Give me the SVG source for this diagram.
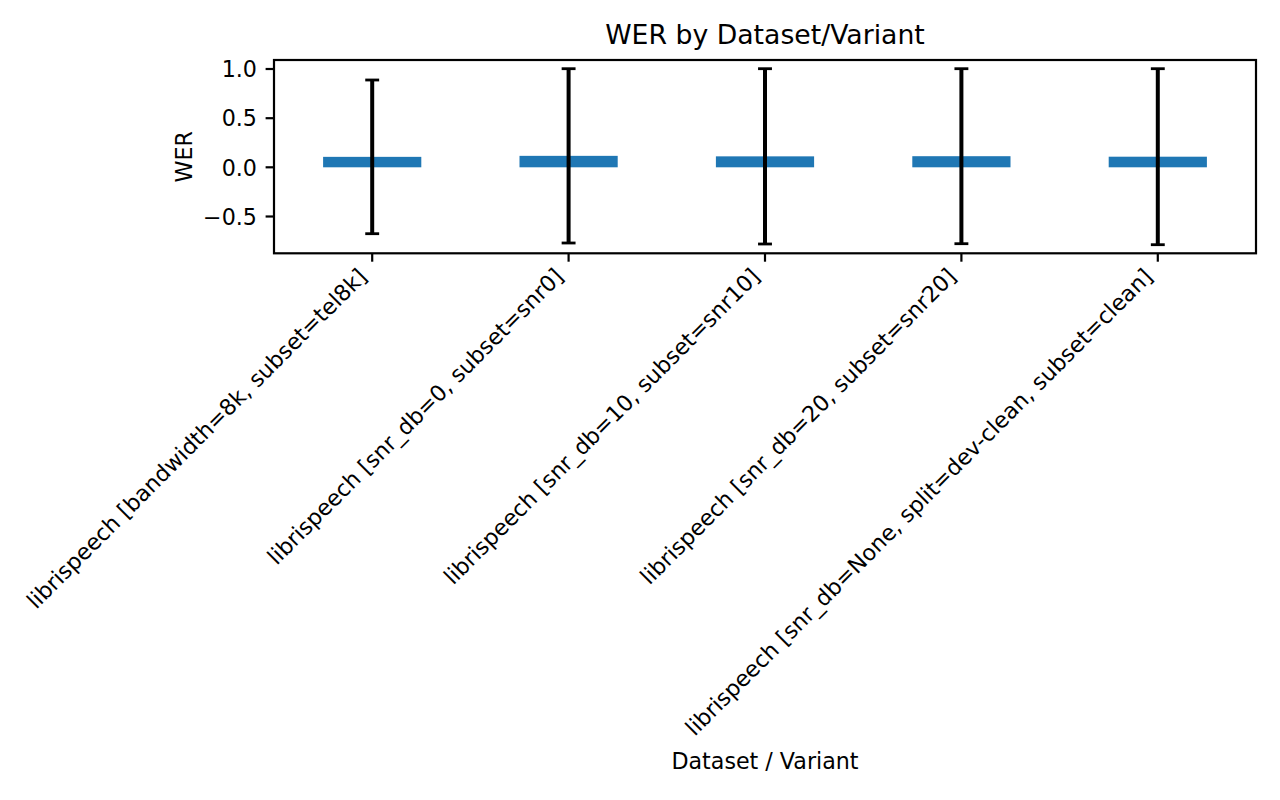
<svg xmlns="http://www.w3.org/2000/svg" width="1280" height="800" viewBox="0 0 1280 800">
<style>
text{font-family:"DejaVu Sans","Liberation Sans",sans-serif;fill:#000}
.tl{font-size:22.2px}
.ttl{font-size:26.7px}
.tick{stroke:#000;stroke-width:2.2}
.bar{fill:#1f77b4}
.err{stroke:#000;stroke-width:4;fill:none}
.cap{stroke:#000;stroke-width:2.8;fill:none}
</style>
<rect width="1280" height="800" fill="#fff"/>
<g id="title"><text class="ttl" x="765" y="43.5" text-anchor="middle">WER by Dataset/Variant</text></g>
<g id="bars">
<rect class="bar" x="323.1" y="156.85" width="98.2" height="10.45"/>
<rect class="bar" x="519.5" y="155.85" width="98.2" height="11.45"/>
<rect class="bar" x="715.9" y="156.35" width="98.2" height="10.95"/>
<rect class="bar" x="912.3" y="156.2" width="98.2" height="11.1"/>
<rect class="bar" x="1108.7" y="156.7" width="98.2" height="10.6"/>
</g>
<g id="errorbars">
<line class="err" x1="372.2" y1="80" x2="372.2" y2="233.7"/>
<line class="cap" x1="365.25" y1="80" x2="379.15" y2="80"/>
<line class="cap" x1="365.25" y1="233.7" x2="379.15" y2="233.7"/>
<line class="err" x1="568.6" y1="68.7" x2="568.6" y2="243"/>
<line class="cap" x1="561.65" y1="68.7" x2="575.55" y2="68.7"/>
<line class="cap" x1="561.65" y1="243" x2="575.55" y2="243"/>
<line class="err" x1="765" y1="68.7" x2="765" y2="244"/>
<line class="cap" x1="758.05" y1="68.7" x2="771.95" y2="68.7"/>
<line class="cap" x1="758.05" y1="244" x2="771.95" y2="244"/>
<line class="err" x1="961.4" y1="68.7" x2="961.4" y2="243.7"/>
<line class="cap" x1="954.45" y1="68.7" x2="968.35" y2="68.7"/>
<line class="cap" x1="954.45" y1="243.7" x2="968.35" y2="243.7"/>
<line class="err" x1="1157.8" y1="68.7" x2="1157.8" y2="244.7"/>
<line class="cap" x1="1150.85" y1="68.7" x2="1164.75" y2="68.7"/>
<line class="cap" x1="1150.85" y1="244.7" x2="1164.75" y2="244.7"/>
</g>
<g id="axes">
<rect x="274" y="60" width="982" height="193.3" fill="none" stroke="#000" stroke-width="2.2"/>
<line class="tick" x1="274" y1="69" x2="265.6" y2="69"/>
<line class="tick" x1="274" y1="118.2" x2="265.6" y2="118.2"/>
<line class="tick" x1="274" y1="167.3" x2="265.6" y2="167.3"/>
<line class="tick" x1="274" y1="216.5" x2="265.6" y2="216.5"/>
<line class="tick" x1="372.2" y1="253.3" x2="372.2" y2="261.7"/>
<line class="tick" x1="568.6" y1="253.3" x2="568.6" y2="261.7"/>
<line class="tick" x1="765" y1="253.3" x2="765" y2="261.7"/>
<line class="tick" x1="961.4" y1="253.3" x2="961.4" y2="261.7"/>
<line class="tick" x1="1157.8" y1="253.3" x2="1157.8" y2="261.7"/>
</g>
<g id="ytick-labels">
<text class="tl" x="257" y="77.2" text-anchor="end">1.0</text>
<text class="tl" x="257" y="126.4" text-anchor="end">0.5</text>
<text class="tl" x="257" y="175.5" text-anchor="end">0.0</text>
<text class="tl" x="257" y="224.7" text-anchor="end">−0.5</text>
</g>
<g id="xtick-labels">
<text class="tl" text-anchor="end" transform="translate(368.2,278) rotate(-45)">librispeech [bandwidth=8k, subset=tel8k]</text>
<text class="tl" text-anchor="end" transform="translate(564.6,278) rotate(-45)">librispeech [snr_db=0, subset=snr0]</text>
<text class="tl" text-anchor="end" transform="translate(761,278) rotate(-45)">librispeech [snr_db=10, subset=snr10]</text>
<text class="tl" text-anchor="end" transform="translate(957.4,278) rotate(-45)">librispeech [snr_db=20, subset=snr20]</text>
<text class="tl" text-anchor="end" transform="translate(1153.8,278) rotate(-45)">librispeech [snr_db=None, split=dev-clean, subset=clean]</text>
</g>
<g id="axis-labels">
<text class="tl" x="765" y="769" text-anchor="middle">Dataset / Variant</text>
<text class="tl" text-anchor="middle" transform="translate(191.5,156.7) rotate(-90)">WER</text>
</g>
</svg>
